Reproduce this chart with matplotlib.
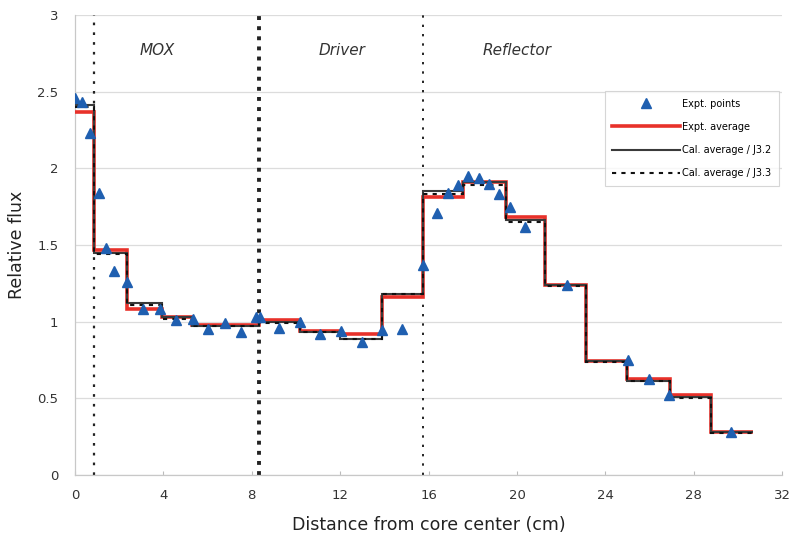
import matplotlib
matplotlib.use("Agg")
import matplotlib.pyplot as plt
from matplotlib.lines import Line2D

# ---------------- data ----------------
edges = [0, 0.87, 2.35, 3.94, 5.3, 8.33, 10.18, 12.0, 13.88, 15.76,
         17.57, 19.5, 21.27, 23.12, 24.96, 26.92, 28.8, 30.66]
expt_avg = [2.37, 1.47, 1.08, 1.03, 0.98, 1.01, 0.94, 0.92, 1.16,
            1.81, 1.91, 1.68, 1.24, 0.745, 0.625, 0.525, 0.28]
cal_j32 = [2.41, 1.45, 1.12, 1.03, 0.97, 1.00, 0.93, 0.89, 1.18,
           1.85, 1.91, 1.66, 1.24, 0.745, 0.615, 0.51, 0.28]
cal_j33 = [2.40, 1.44, 1.11, 1.02, 0.97, 0.99, 0.93, 0.89, 1.18,
           1.83, 1.89, 1.65, 1.23, 0.74, 0.61, 0.505, 0.275]

pts_x = [0.0, 0.3, 0.68, 1.09, 1.4, 1.78, 2.36, 3.06, 3.85, 4.55, 5.32, 6.0,
         6.79, 7.5, 8.19, 8.37, 9.25, 10.18, 11.09, 12.02, 12.97, 13.9, 14.8,
         15.73, 16.4, 16.9, 17.35, 17.8, 18.28, 18.73, 19.19, 19.68, 20.36,
         22.28, 25.04, 25.97, 26.9, 29.67]
pts_y = [2.46, 2.43, 2.23, 1.84, 1.48, 1.33, 1.26, 1.08, 1.08, 1.01, 1.02, 0.95,
         0.99, 0.93, 1.03, 1.03, 0.96, 1.0, 0.92, 0.94, 0.865, 0.945, 0.955,
         1.37, 1.71, 1.84, 1.89, 1.95, 1.94, 1.90, 1.83, 1.75, 1.62,
         1.24, 0.75, 0.625, 0.52, 0.28]

boundaries = [0.87, 8.33, 15.76]
regions = ["MOX", "Driver", "Reflector"]
region_x = [3.7, 12.1, 20.0]

xticks = [0, 4, 8, 12, 16, 20, 24, 28, 32]
yticks = [0, 0.5, 1, 1.5, 2, 2.5, 3]
ytick_labels = ["0", "0.5", "1", "1.5", "2", "2.5", "3"]

# ---------------- figure ----------------
fig = plt.figure(figsize=(7.91, 5.42), dpi=100)
ax = fig.add_axes([0.0948, 0.1236, 0.894, 0.8487])

ax.set_xlim(0, 32)
ax.set_ylim(0, 3)

ax.yaxis.grid(True, color="#dcdcdc", linewidth=0.9)
ax.set_axisbelow(True)

for b, lw, dash in zip(boundaries, [1.6, 2.8, 1.4], [(0, (1.2, 3.2)), (0, (1, 1.6)), (0, (1.2, 3.6))]):
    ax.axvline(b, color="#222222", linewidth=lw, linestyle=dash, zorder=2)

ax.stairs(expt_avg, edges, baseline=None, color="#e8312a", linewidth=2.6, zorder=3)
ax.stairs(cal_j32, edges, baseline=None, color="#3a3a3a", linewidth=1.5, zorder=4)
ax.stairs(cal_j33, edges, baseline=None, color="#111111", linewidth=1.5,
          linestyle=(0, (2, 2.5)), zorder=5)
ax.plot(pts_x, pts_y, linestyle="none", marker="^", markersize=7.5,
        color="#1f5fb0", markeredgecolor="#1f5fb0", zorder=6)

for name, x in zip(regions, region_x):
    ax.text(x, 2.77, name, fontstyle="italic", fontsize=11, ha="center",
            va="center", color="#333333")

ax.set_xticks(xticks)
ax.set_yticks(yticks)
ax.set_yticklabels(ytick_labels)
ax.tick_params(axis="both", labelsize=9.5, colors="#333333", length=3,
               color="#bbbbbb")
ax.tick_params(axis="x", direction="in", pad=10)
ax.tick_params(axis="y", length=0, pad=12)

for s in ["top", "right"]:
    ax.spines[s].set_visible(False)
for s in ["left", "bottom"]:
    ax.spines[s].set_color("#c8c8c8")
    ax.spines[s].set_linewidth(0.9)

ax.set_xlabel("Distance from core center (cm)", fontsize=12.5, color="#222222", labelpad=10)
ax.set_ylabel("Relative flux", fontsize=12.5, color="#222222", labelpad=8)

handles = [
    Line2D([], [], linestyle="none", marker="^", markersize=7, color="#1f5fb0"),
    Line2D([], [], color="#e8312a", linewidth=2.6),
    Line2D([], [], color="#3a3a3a", linewidth=1.5),
    Line2D([], [], color="#111111", linewidth=1.5, linestyle=(0, (2, 2.5))),
]
labels = ["Expt. points", "Expt. average", "Cal. average / J3.2", "Cal. average / J3.3"]
leg = ax.legend(handles, labels, loc="upper right", bbox_to_anchor=(0.996, 0.835),
                fontsize=7, handlelength=7, handletextpad=0.2, labelspacing=1.35,
                frameon=True, fancybox=False, borderpad=0.8, borderaxespad=0)
leg.get_frame().set_edgecolor("#cccccc")
leg.get_frame().set_linewidth(0.8)

fig.savefig("out.png", dpi=100)
